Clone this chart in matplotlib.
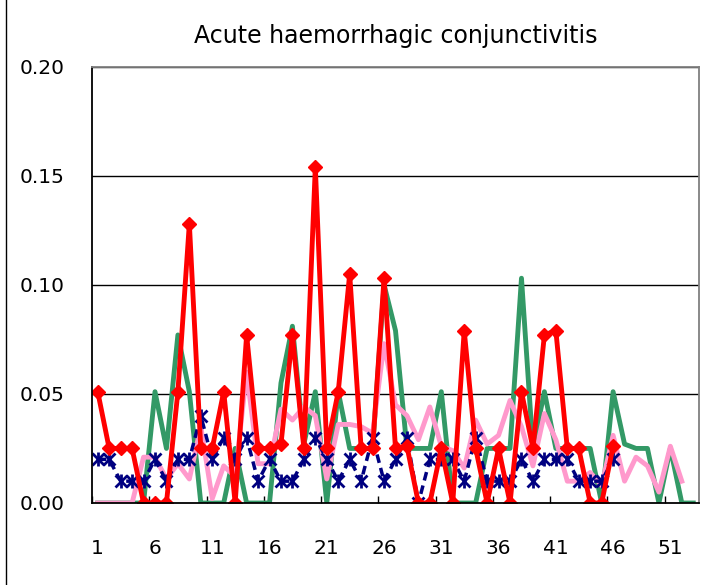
import matplotlib
matplotlib.use("Agg")
import matplotlib.pyplot as plt
from matplotlib.lines import Line2D

title = "Acute haemorrhagic conjunctivitis"
weeks_all = list(range(1, 54))
xtick_labels = [1, 6, 11, 16, 21, 26, 31, 36, 41, 46, 51]
ytick_values = [0.00, 0.05, 0.10, 0.15, 0.20]

red_vals = [0.051, 0.025, 0.025, 0.025, 0, 0, 0, 0.051, 0.128, 0.025,
            0.025, 0.051, 0, 0.077, 0.025, 0.025, 0.027, 0.077, 0.025, 0.154,
            0.025, 0.051, 0.105, 0.025, 0.025, 0.103, 0.025, 0.026, 0, 0,
            0.025, 0, 0.079, 0.025, 0, 0.025, 0, 0.051, 0.025, 0.077,
            0.079, 0.025, 0.025, 0, 0, 0.026]
green_vals = [0, 0, 0, 0, 0, 0.051, 0.025, 0.077, 0.051, 0,
              0, 0, 0.025, 0, 0, 0, 0.055, 0.081, 0.027, 0.051,
              0, 0.051, 0.025, 0.025, 0.025, 0.100, 0.079, 0.025, 0.025, 0.025,
              0.051, 0, 0, 0, 0.025, 0.025, 0.025, 0.103, 0.025, 0.051,
              0.025, 0.025, 0.025, 0.025, 0, 0.051, 0.027, 0.025, 0.025, 0,
              0.025, 0, 0]
pink_vals = [0, 0, 0, 0, 0.021, 0.021, 0.011, 0.018, 0.011, 0.035,
             0.002, 0.017, 0.012, 0.060, 0.018, 0.018, 0.043, 0.038, 0.044, 0.040,
             0.011, 0.036, 0.036, 0.035, 0.032, 0.073, 0.045, 0.040, 0.029, 0.044,
             0.026, 0.024, 0.016, 0.038, 0.027, 0.031, 0.047, 0.035, 0.017, 0.041,
             0.029, 0.010, 0.010, 0.014, 0.008, 0.031, 0.010, 0.021, 0.017, 0.005,
             0.026, 0.010]
blue_vals = [0.02, 0.02, 0.01, 0.01, 0.01, 0.02, 0.01, 0.02, 0.02, 0.04,
             0.02, 0.03, 0.02, 0.03, 0.01, 0.02, 0.01, 0.01, 0.02, 0.03,
             0.02, 0.01, 0.02, 0.01, 0.03, 0.01, 0.02, 0.03, 0, 0.02,
             0.02, 0.02, 0.01, 0.03, 0.01, 0.01, 0.01, 0.02, 0.01, 0.02,
             0.02, 0.02, 0.01, 0.01, 0.01, 0.02]

RED = "#FF0000"
GREEN = "#339966"
PINK = "#FF99CC"
NAVY = "#000080"

plt.rcParams['font.family'] = ['DejaVu Sans']

fig = plt.figure(figsize=(7.04, 5.85), dpi=100)
ax = fig.add_axes([92/704, 1-503/585, (699-92)/704, (503-66.5)/585])

def wk(vals):
    return weeks_all[:len(vals)]

ax.plot(wk(green_vals), green_vals, color=GREEN, lw=3.5, zorder=3)
ax.plot(wk(pink_vals), pink_vals, color=PINK, lw=3.5, zorder=4)
ax.plot(wk(blue_vals), blue_vals, color=NAVY, lw=2.5, ls=(0, (2.5, 1.5)), zorder=5)
ax.plot(wk(blue_vals), blue_vals, ls='none', marker='x', ms=8.5, mew=2.0,
        color=NAVY, zorder=6)
ax.plot(wk(blue_vals), blue_vals, ls='none', marker='|', ms=9.5, mew=2.0,
        color=NAVY, zorder=6)
ax.plot(wk(red_vals), red_vals, color=RED, lw=3.5, marker='D', ms=7.5,
        mec=RED, mfc=RED, zorder=7)

ax.set_xlim(0.5, 53.5)
ax.set_ylim(0, 0.20)
ax.set_yticks(ytick_values)
ax.set_yticklabels([f"{v:.2f}" for v in ytick_values], fontsize=14.5)
ax.set_xticks(xtick_labels)
ax.set_xticklabels([str(v) for v in xtick_labels], fontsize=14.5)
ax.tick_params(axis='x', length=0, pad=26)
ax.tick_params(axis='y', length=0, pad=20)
ax.set_xticks([0.5 + 5*i for i in range(11)], minor=True)
ax.tick_params(axis='x', which='minor', direction='in', length=5, width=1, color='black')

for v in ytick_values[1:]:
    ax.axhline(v, color='black', lw=1.0, zorder=1)

for s in ['left', 'bottom']:
    ax.spines[s].set_color('black')
    ax.spines[s].set_linewidth(1.3)
for s in ['top', 'right']:
    ax.spines[s].set_color('#808080')
    ax.spines[s].set_linewidth(1.3)
for s in ax.spines.values():
    s.set_zorder(8)

fig.text((92+699)/2/704, 1-36/585, title, ha='center', va='center', fontsize=17)

fig.add_artist(Line2D([6/704, 6/704], [0, 1], color='black', lw=1.0,
                      transform=fig.transFigure))

fig.savefig("out.png", dpi=100)
